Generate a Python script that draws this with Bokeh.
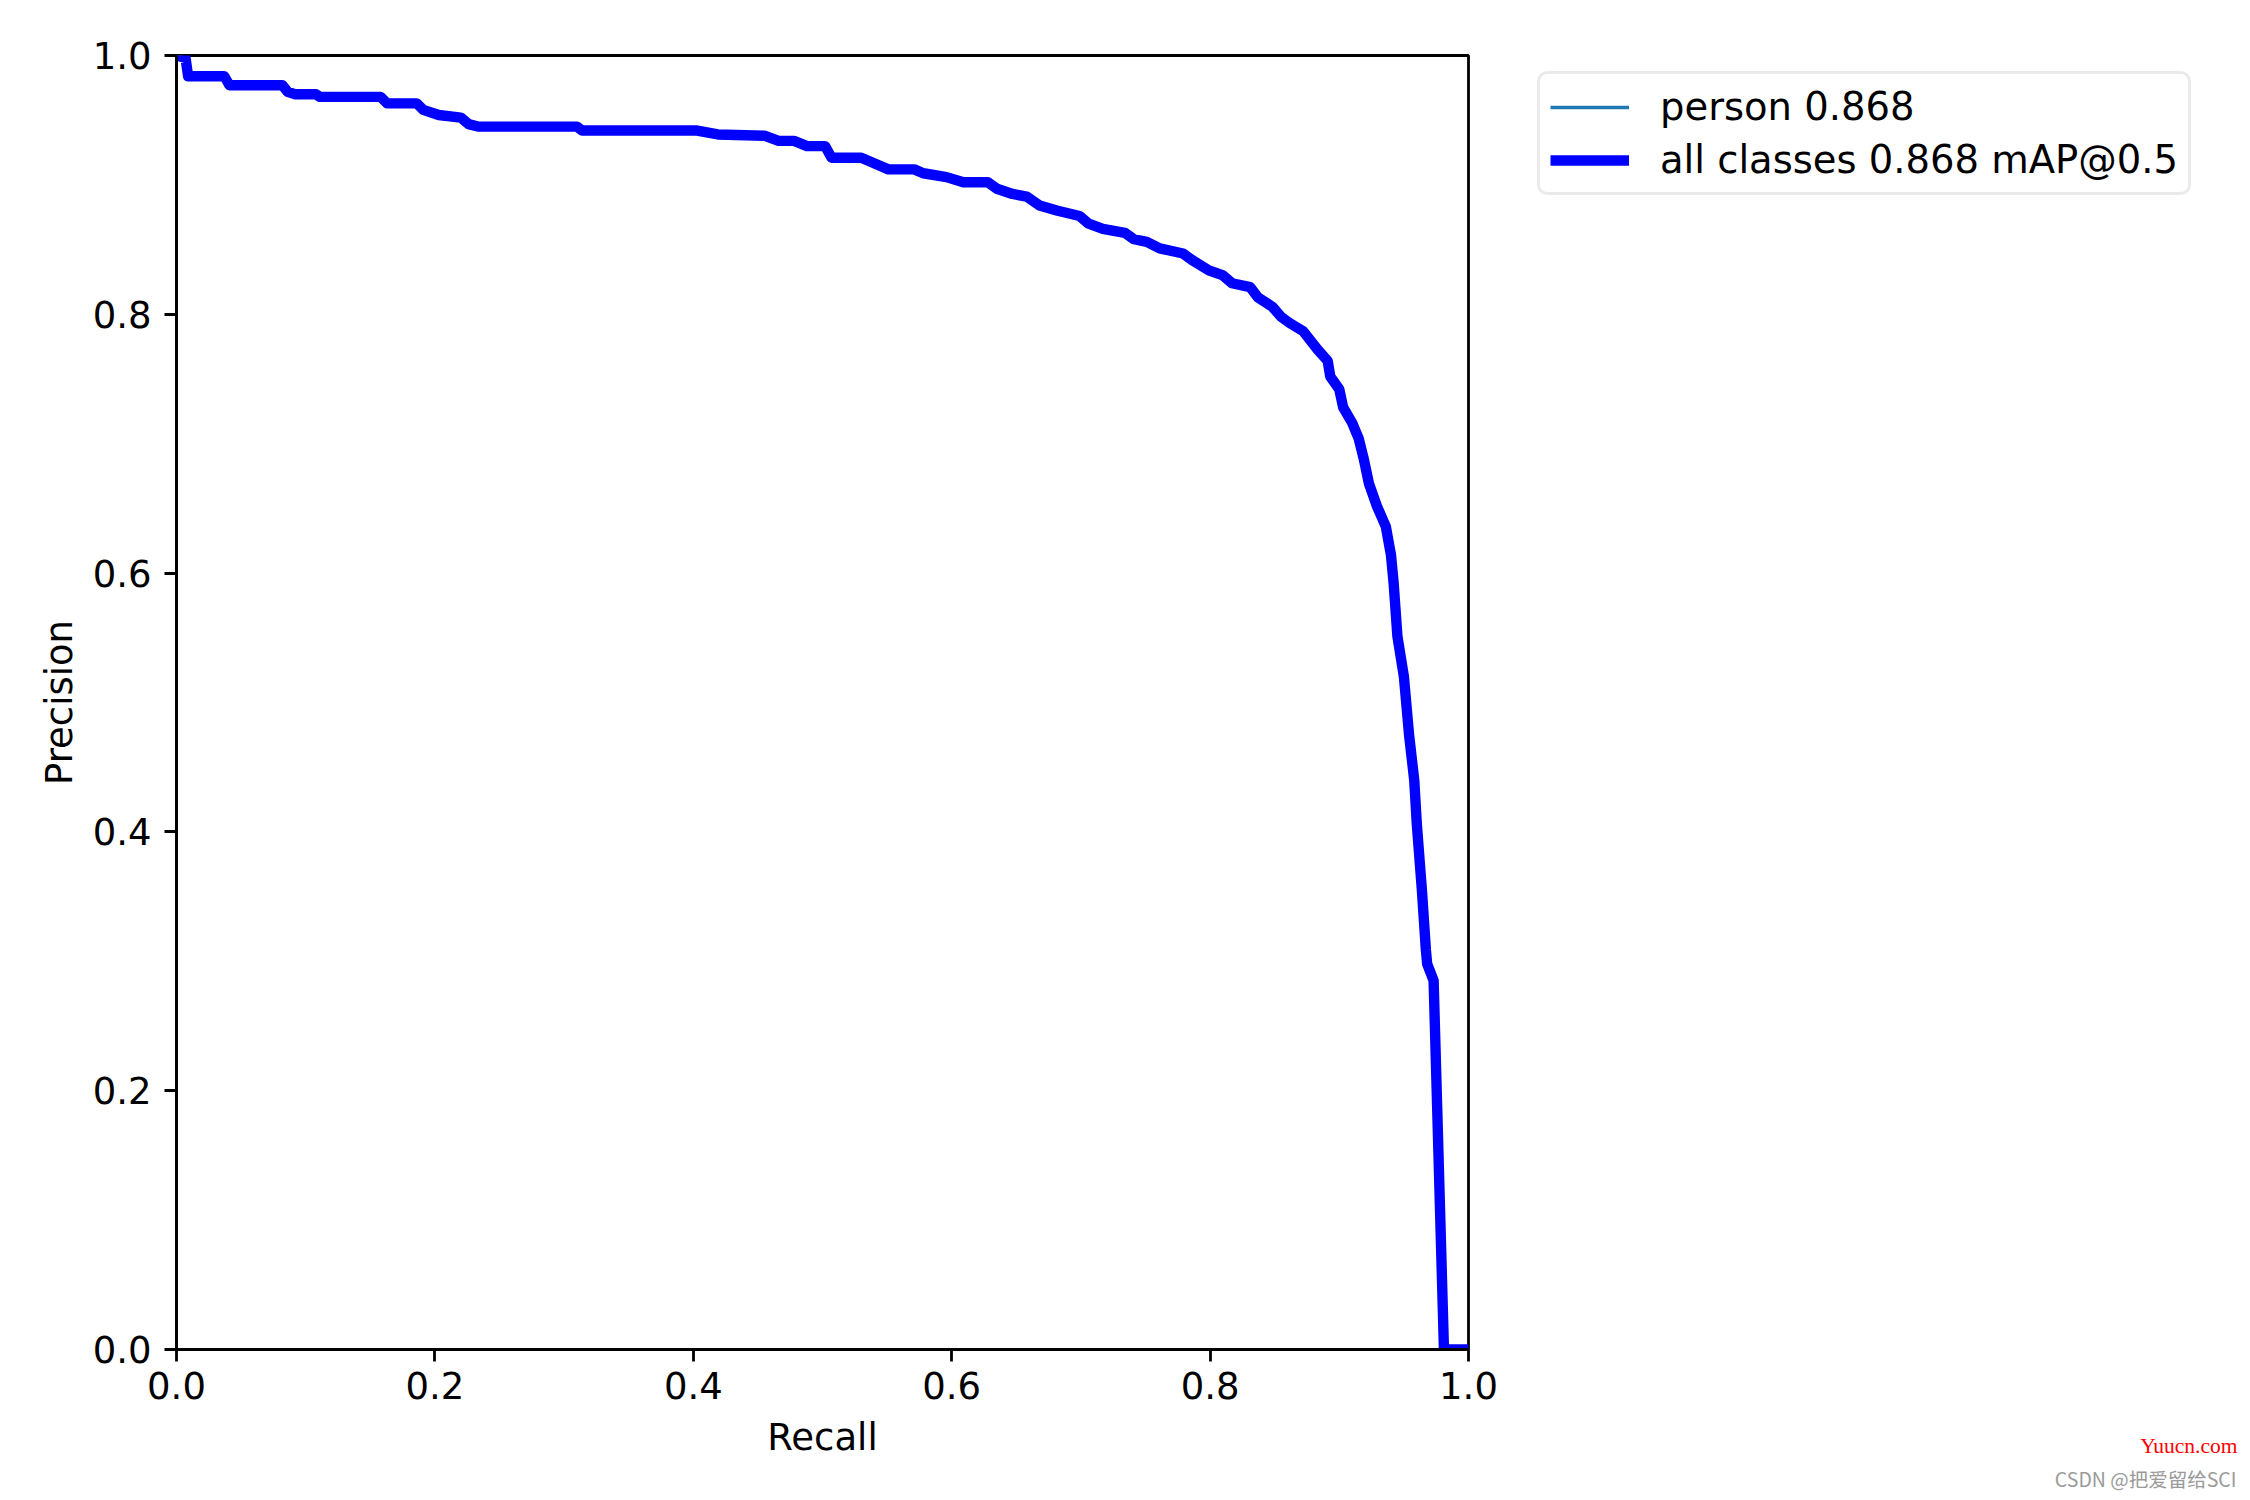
from bokeh.plotting import figure
from bokeh.layouts import row
from bokeh.models import Range1d, Legend, LegendItem, Label, NumeralTickFormatter, FixedTicker
from bokeh.embed import file_html
from bokeh.resources import INLINE

# ---- data ----
recall = [0.000, 0.007, 0.009, 0.037, 0.041, 0.082, 0.086, 0.092, 0.108, 0.111,
          0.158, 0.163, 0.186, 0.191, 0.203, 0.220, 0.226, 0.234, 0.310, 0.314,
          0.403, 0.419, 0.455, 0.466, 0.478, 0.488, 0.502, 0.507, 0.530, 0.544,
          0.551, 0.571, 0.578, 0.596, 0.609, 0.628, 0.635, 0.647, 0.658, 0.668,
          0.682, 0.699, 0.706, 0.717, 0.734, 0.741, 0.751, 0.761, 0.779, 0.786,
          0.799, 0.810, 0.817, 0.831, 0.837, 0.848, 0.855, 0.862, 0.872, 0.883,
          0.891, 0.893, 0.900, 0.903, 0.910, 0.915, 0.919, 0.923, 0.929, 0.936,
          0.940, 0.942, 0.945, 0.950, 0.954, 0.958, 0.960, 0.964, 0.967, 0.968,
          0.973, 0.981, 1.000]
precision_person = [1.000, 0.998, 0.984, 0.984, 0.977, 0.977, 0.972, 0.970, 0.970, 0.968,
                    0.968, 0.963, 0.963, 0.958, 0.954, 0.952, 0.947, 0.945, 0.945, 0.942,
                    0.942, 0.939, 0.938, 0.934, 0.934, 0.930, 0.930, 0.921, 0.921, 0.915,
                    0.912, 0.912, 0.909, 0.906, 0.902, 0.902, 0.897, 0.893, 0.891, 0.884,
                    0.880, 0.876, 0.870, 0.866, 0.863, 0.858, 0.856, 0.851, 0.847, 0.842,
                    0.834, 0.830, 0.824, 0.821, 0.813, 0.806, 0.798, 0.793, 0.787, 0.773,
                    0.764, 0.752, 0.742, 0.728, 0.716, 0.704, 0.688, 0.669, 0.652, 0.636,
                    0.614, 0.593, 0.551, 0.520, 0.475, 0.440, 0.406, 0.354, 0.309, 0.298,
                    0.285, 0.000, 0.000]
precision_all = list(precision_person)  # mean over the single class
ticks = [0.0, 0.2, 0.4, 0.6, 0.8, 1.0]
label_person = "person 0.868"
label_all = "all classes 0.868 mAP@0.5"
watermark_site = "Yuucn.com"
watermark_author = "CSDN @把爱留给SCI"

FONT = "DejaVu Sans"
FS = "37px"
COL_PERSON = "#1f77b4"
COL_ALL = "#0000ff"

# ---------------- main axes ----------------
p = figure(frame_width=1292, frame_height=1294,
           min_border_left=176, min_border_right=40,
           min_border_top=55, min_border_bottom=151,
           x_range=Range1d(0, 1), y_range=Range1d(0, 1),
           output_backend="svg", toolbar_location=None,
           background_fill_color="white", border_fill_color="white")

p.grid.visible = False
p.outline_line_color = "black"
p.outline_line_width = 2.8
p.outline_line_alpha = 1.0

for ax in (p.xaxis[0], p.yaxis[0]):
    ax.ticker = FixedTicker(ticks=ticks)
    ax.formatter = NumeralTickFormatter(format="0.0")
    ax.axis_line_width = 2.8
    ax.axis_line_color = "black"
    ax.major_tick_line_width = 2.8
    ax.major_tick_line_color = "black"
    ax.major_tick_out = 12
    ax.major_tick_in = 0
    ax.minor_tick_line_color = None
    ax.major_label_text_font = FONT
    ax.major_label_text_font_size = FS
    ax.major_label_text_color = "black"
    ax.axis_label_text_font = FONT
    ax.axis_label_text_font_size = FS
    ax.axis_label_text_font_style = "normal"
    ax.axis_label_text_color = "black"

p.xaxis[0].axis_label = "Recall"
p.yaxis[0].axis_label = "Precision"
p.xaxis[0].major_label_standoff = 10
p.xaxis[0].axis_label_standoff = 14
p.yaxis[0].major_label_standoff = 13
p.yaxis[0].axis_label_standoff = 9

p.line(recall, precision_person, line_color=COL_PERSON, line_width=3.5)
p.line(recall, precision_all, line_color=COL_ALL, line_width=10.4,
       line_join="round", line_cap="butt")

# ---------------- right-hand area: legend + watermark ----------------
P2X = 1508
P2W = 2250 - P2X
p2 = figure(width=P2W, height=1500, x_axis_type=None, y_axis_type=None,
            x_range=Range1d(100, 100 + P2W), y_range=Range1d(100, 1600),
            min_border=0, output_backend="svg", toolbar_location=None,
            background_fill_color="white", border_fill_color="white")
p2.grid.visible = False
p2.outline_line_color = None

aligned = False
for fig in (p, p2):
    try:
        fig.frame_align = False
        aligned = True
    except Exception:
        pass

# frame bottom of the right-hand panel, in page pixels from the top
bottom = 1500 if aligned else 1349

# legend keys use the same series (they lie outside this panel's visible range)
k1 = p2.line(recall, precision_person, line_color=COL_PERSON, line_width=3.5)
k2 = p2.line(recall, precision_all, line_color=COL_ALL, line_width=10.4)

legend = Legend(items=[LegendItem(label=label_person, renderers=[k1]),
                       LegendItem(label=label_all, renderers=[k2])],
                location=(1537 - P2X, bottom - 195))
legend.label_text_font = FONT
legend.label_text_font_size = "38.5px"
legend.label_text_color = "black"
legend.glyph_width = 79
legend.glyph_height = 42
legend.label_height = 42
legend.label_standoff = 31
legend.spacing = 8
legend.padding = 10
legend.margin = 0
legend.border_line_color = "#d6d6d6"
legend.border_line_width = 3
legend.background_fill_color = "white"
legend.background_fill_alpha = 0.8
try:
    legend.border_radius = 10
except Exception:
    pass
p2.add_layout(legend)

wm1 = Label(x=2237 - P2X, y=bottom - 1445, x_units="screen", y_units="screen",
            text=watermark_site, text_align="right", text_baseline="middle",
            text_font="Liberation Serif", text_font_size="21.5px", text_color="#ff0000")
wm2 = Label(x=2236 - P2X, y=bottom - 1478, x_units="screen", y_units="screen",
            text=watermark_author, text_align="right", text_baseline="middle",
            text_font="Noto Sans CJK SC", text_font_size="19.5px", text_color="#9a9a9a")
p2.add_layout(wm1)
p2.add_layout(wm2)

layout = row(p, p2, spacing=0)
open("out.html", "w").write(file_html(layout, INLINE))
